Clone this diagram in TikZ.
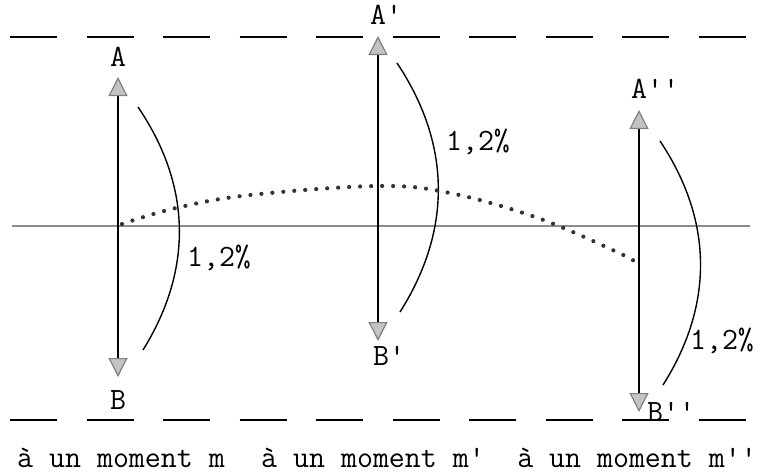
\documentclass[tikz,border=0pt]{standalone}
\usepackage{fontspec}
\usepackage{tikz}
\usetikzlibrary{arrows.meta, positioning}
\definecolor{grismilieu}{RGB}{140,140,140}
\definecolor{grispointe}{RGB}{195,195,195}

\begin{document}
\begin{tikzpicture}[x=1pt, y=-1pt,
        lbl/.style={font=\fontsize{31}{34}\selectfont\ttfamily, inner sep=0pt},
        vec/.style={line width=1.2pt,
                    {Triangle[length=19pt, width=19pt, color=gray, fill=grispointe]}-{Triangle[length=19pt, width=19pt, color=gray, fill=grispointe]}},
        courbe/.style={line width=1.4pt},
        tiret/.style={line width=1.3pt, dash pattern=on 47pt off 29.5pt},
        pointille/.style={line width=4.2pt, line cap=round, black!80, dash pattern=on 0pt off 11pt}]
      \useasboundingbox (0,0) rectangle (773,475);

      % lignes horizontales
      \coordinate (t0) at (10,37);   \coordinate (t1) at (748,37);
      \coordinate (u0) at (10,420);  \coordinate (u1) at (748,420);
      \coordinate (g0) at (12,226);  \coordinate (g1) at (750,226);
      \draw[tiret] (t0) -- (t1);
      \draw[tiret] (u0) -- (u1);
      \draw[grismilieu, line width=2.8pt] (g0) -- (g1);

      % trois positions de AB
      \coordinate (a1) at (118,77);   \coordinate (b1) at (118,377);
      \coordinate (a2) at (378,36);   \coordinate (b2) at (378,341);
      \coordinate (a3) at (639,110);  \coordinate (b3) at (639,412);
      \draw[vec] (b1) -- (a1);
      \draw[vec] (b2) -- (a2);
      \draw[vec] (b3) -- (a3);

      \node[lbl, above=10pt of a1] (A) {A};
      \node[lbl, below=13pt of b1] (B) {B};
      \node[lbl, above right=11pt and -8pt of a2] (A1) {A'};
      \node[lbl, below right=5pt and -5pt of b2] (B1) {B'};
      \node[lbl, above right=11pt and -8pt of a3] (A2) {A''};
      \node[lbl, right=8pt of b3] (B2) {B''};

      % arcs de 1,2%
      \coordinate (h1) at (138,107);  \coordinate (k1) at (143,350);
      \coordinate (h2) at (397,63);   \coordinate (k2) at (400,312);
      \coordinate (h3) at (660,141);  \coordinate (k3) at (663,385);
      \draw[courbe] (h1) to[bend left=33] (k1);
      \draw[courbe] (h2) to[bend left=33] (k2);
      \draw[courbe] (h3) to[bend left=33] (k3);
      \node[lbl] (p1) at (219,258) {1,2\%};
      \node[lbl] (p2) at (478,142) {1,2\%};
      \node[lbl] (p3) at (722,341) {1,2\%};

      % milieux
      \coordinate (m1) at (122,224);
      \coordinate (m2) at (378,186);
      \coordinate (m3) at (637,263);
      \draw[pointille] plot[smooth, tension=0.6] coordinates
            {(m1) (176,208) (250,195) (m2) (450,193) (538,218) (617,252) (m3)};

      \node[lbl, anchor=base] (t1) at (121,467) {à un moment m};
      \node[lbl, anchor=base] (t2) at (373,467) {à un moment m'};
      \node[lbl, anchor=base] (t3) at (637,467) {à un moment m''};
    \end{tikzpicture}
\end{document}
